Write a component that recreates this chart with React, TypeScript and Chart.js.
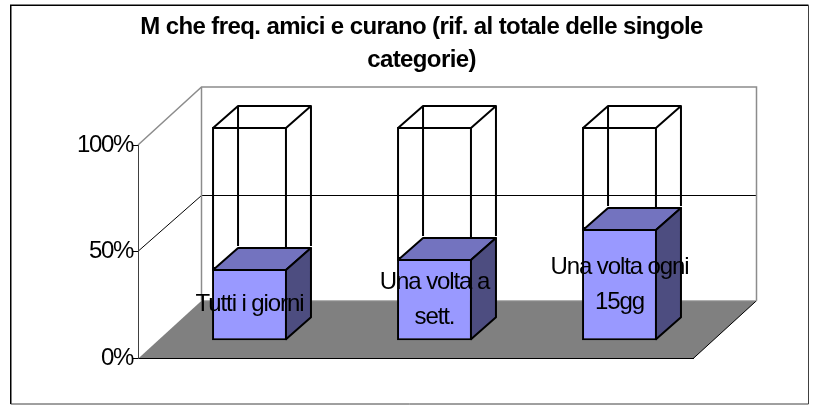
import React, { useEffect, useRef } from "react";
import { Chart, registerables } from "chart.js";

Chart.register(...registerables);

const titleLines = ["M che freq. amici e curano (rif. al totale delle singole", "categorie)"];
const categories = ["Tutti i giorni", "Una volta a sett.", "Una volta ogni 15gg"];
const categoryLabelLines = [["Tutti i giorni"], ["Una volta a", "sett."], ["Una volta ogni", "15gg"]];
const shareValues = [33.5, 38.2, 52.3];
const remainderValues = [66.5, 61.8, 47.7];
const yTicks = [0, 50, 100];

const FONT = '"Liberation Sans", Arial, sans-serif';
const WALL_DX = 63.5;
const WALL_DY = -58;
const BAR_SHIFT_X = 19;
const BAR_SHIFT_Y = -18;
const BAR_DX = 25;
const BAR_DY = -22;
const BAR_LINE = 2;
const TICK_SPACING = "-1.35px";
const TITLE_SPACING = "-0.6px";
const LABEL_SPACING = "-1.1px";

const box3d = {
  id: "box3d",
  afterLayout(chart: any) {
    const block = chart.titleBlock;
    block.left = 27;
    block.right = 816;
    if (!block.__patched) {
      block.__patched = true;
      const original = block.draw;
      block.draw = function (...rest: any[]) {
        chart.ctx.letterSpacing = TITLE_SPACING;
        original.apply(this, rest);
        chart.ctx.letterSpacing = TICK_SPACING;
      };
    }
  },
  beforeDraw(chart: any) {
    const { ctx } = chart;
    const x = chart.scales.x;
    const y = chart.scales.y;
    const l = x.left, r = x.right;
    const y0 = y.getPixelForValue(0);
    const y100 = y.getPixelForValue(100);
    ctx.letterSpacing = TICK_SPACING;
    ctx.save();
    ctx.fillStyle = "#ffffff";
    ctx.fillRect(0, 0, chart.width, chart.height);
    // outer frame
    ctx.strokeStyle = "#000000";
    ctx.lineWidth = 1.5;
    ctx.beginPath();
    ctx.moveTo(10.75, 404);
    ctx.lineTo(10.75, 5.25);
    ctx.lineTo(808.5, 5.25);
    ctx.stroke();
    ctx.strokeStyle = "#404040";
    ctx.lineWidth = 1;
    ctx.beginPath();
    ctx.moveTo(808.5, 5.25);
    ctx.lineTo(808.5, 404);
    ctx.lineTo(10.75, 404);
    ctx.stroke();
    // floor
    ctx.fillStyle = "#808080";
    ctx.beginPath();
    ctx.moveTo(l, y0);
    ctx.lineTo(l + WALL_DX, y0 + WALL_DY);
    ctx.lineTo(r + WALL_DX, y0 + WALL_DY);
    ctx.lineTo(r, y0);
    ctx.closePath();
    ctx.fill();
    ctx.strokeStyle = "#000000";
    ctx.lineWidth = 1;
    ctx.beginPath();
    ctx.moveTo(r, y0);
    ctx.lineTo(r + WALL_DX, y0 + WALL_DY);
    ctx.stroke();
    // middle gridlines on side and back walls
    ctx.lineWidth = 1;
    yTicks.slice(1, -1).forEach((v) => {
      const p = y.getPixelForValue(v);
      const back = Math.round(p + WALL_DY + 1.5) + 0.5;
      ctx.beginPath();
      ctx.moveTo(l, p - 0.5);
      ctx.lineTo(l + WALL_DX, back);
      ctx.lineTo(r + WALL_DX, back);
      ctx.stroke();
    });
    // wall edges
    ctx.strokeStyle = "#8c8c8c";
    ctx.lineWidth = 1.5;
    ctx.beginPath();
    ctx.moveTo(l, y100);
    ctx.lineTo(l + WALL_DX, y100 + WALL_DY);
    ctx.lineTo(r + WALL_DX, y100 + WALL_DY);
    ctx.lineTo(r + WALL_DX, y0 + WALL_DY);
    ctx.stroke();
    ctx.beginPath();
    ctx.moveTo(l + WALL_DX, y100 + WALL_DY);
    ctx.lineTo(l + WALL_DX, y0 + WALL_DY);
    ctx.stroke();
    ctx.strokeStyle = "#a6a6a6";
    ctx.lineWidth = 1;
    ctx.beginPath();
    ctx.moveTo(l + WALL_DX, y0 + WALL_DY);
    ctx.lineTo(r + WALL_DX, y0 + WALL_DY);
    ctx.stroke();
    ctx.restore();
  },
  beforeDatasetDraw(chart: any) {
    chart.ctx.save();
    chart.ctx.translate(BAR_SHIFT_X, BAR_SHIFT_Y);
  },
  afterDatasetDraw(chart: any, args: any) {
    const { ctx } = chart;
    const solid = args.index === 0;
    ctx.lineWidth = BAR_LINE;
    ctx.strokeStyle = "#000000";
    ctx.lineJoin = "round";
    const inset = BAR_LINE / 2;
    args.meta.data.forEach((bar: any) => {
      const p = bar.getProps(["x", "y", "base", "width"], true);
      const a = p.x - p.width / 2 + inset;
      const b = p.x + p.width / 2 - inset;
      const t = p.y + inset;
      const base = p.base - inset;
      if (!solid) {
        ctx.beginPath();
        ctx.moveTo(a, t);
        ctx.lineTo(a + BAR_DX, t + BAR_DY);
        ctx.lineTo(b + BAR_DX, t + BAR_DY);
        ctx.lineTo(b, t);
        ctx.moveTo(b + BAR_DX, t + BAR_DY);
        ctx.lineTo(b + BAR_DX, base + BAR_DY);
        ctx.moveTo(a + BAR_DX, t + BAR_DY);
        ctx.lineTo(a + BAR_DX, base + BAR_DY);
        ctx.stroke();
        return;
      }
      ctx.fillStyle = "#7373BF";
      ctx.beginPath();
      ctx.moveTo(a, t);
      ctx.lineTo(a + BAR_DX, t + BAR_DY);
      ctx.lineTo(b + BAR_DX, t + BAR_DY);
      ctx.lineTo(b, t);
      ctx.closePath();
      ctx.fill();
      ctx.stroke();
      ctx.fillStyle = "#4D4D80";
      ctx.beginPath();
      ctx.moveTo(b, t);
      ctx.lineTo(b + BAR_DX, t + BAR_DY);
      ctx.lineTo(b + BAR_DX, base + BAR_DY);
      ctx.lineTo(b, base);
      ctx.closePath();
      ctx.fill();
      ctx.stroke();
    });
    ctx.restore();
  },
  afterDraw(chart: any) {
    const { ctx } = chart;
    const meta = chart.getDatasetMeta(0);
    ctx.save();
    ctx.font = `24px ${FONT}`;
    ctx.letterSpacing = LABEL_SPACING;
    ctx.fillStyle = "#000000";
    ctx.textAlign = "center";
    ctx.textBaseline = "middle";
    meta.data.forEach((bar: any, i: number) => {
      const p = bar.getProps(["x", "y", "base"], true);
      const lines = categoryLabelLines[i];
      const cy = (p.y + p.base) / 2 + BAR_SHIFT_Y;
      lines.forEach((line, k) => {
        ctx.fillText(line, p.x + BAR_SHIFT_X, cy + (k - (lines.length - 1) / 2) * 35);
      });
    });
    ctx.restore();
  },
};

export default function App() {
  const ref = useRef<HTMLCanvasElement | null>(null);
  useEffect(() => {
    document.body.style.margin = "0";
    const ctx = ref.current!.getContext("2d") as any;
    const common = {
      barPercentage: 0.405,
      categoryPercentage: 1,
      borderColor: "#000000",
      borderWidth: BAR_LINE,
      borderSkipped: false,
      clip: false,
    };
    const chart = new Chart(ctx, {
      type: "bar",
      data: {
        labels: categories,
        datasets: [
          { label: "Quota", data: shareValues, backgroundColor: "#9999FF", ...common } as any,
          { label: "Resto", data: remainderValues, backgroundColor: "rgba(0,0,0,0)", ...common } as any,
        ],
      },
      options: {
        animation: false,
        responsive: false,
        layout: { padding: { left: 0, top: 0, right: 123, bottom: 46.3 } },
        plugins: {
          legend: { display: false },
          tooltip: { enabled: false },
          title: {
            display: true,
            text: titleLines,
            color: "#000000",
            font: { family: FONT, size: 24, weight: "bold", lineHeight: 33 / 24 },
            padding: { top: 10.5, bottom: 68.5 },
          },
        },
        scales: {
          x: {
            stacked: true,
            afterFit: (s: any) => { s.height = 0; },
            ticks: { display: false },
            grid: { display: false },
            border: { display: true, color: "#000000", width: 1 },
          } as any,
          y: {
            stacked: true,
            min: 0,
            max: 100,
            afterFit: (s: any) => { s.width = 138; },
            afterBuildTicks: (s: any) => { s.ticks = yTicks.map((value) => ({ value })); },
            ticks: {
              color: "#000000",
              font: { family: FONT, size: 24 },
              padding: 0,
              callback: (v: any) => `${v}%`,
            },
            grid: { drawOnChartArea: false, drawTicks: true, tickLength: 5, color: "#000000" },
            border: { display: true, color: "#404040", width: 1 },
          } as any,
        },
      },
      plugins: [box3d],
    } as any);
    return () => chart.destroy();
  }, []);
  return (
    <div style={{ width: 816, height: 405 }}>
      <canvas ref={ref} width={816} height={405} style={{ display: "block" }} />
    </div>
  );
}
